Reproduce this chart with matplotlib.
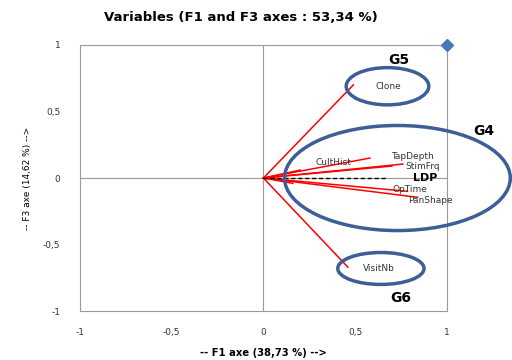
import numpy as np
import matplotlib
matplotlib.use("Agg")
import matplotlib.pyplot as plt
from matplotlib.patches import Ellipse

# variable coordinates (F1, F3)
names = ["Clone", "VisitNb", "CultHist", "TapDepth", "StimFrq", "OpTime", "PanShape", "Short1", "Short2"]
f1 = [0.49, 0.46, 0.58, 0.76, 0.70, 0.785, 0.84, 0.20, 0.16]
f3 = [0.70, -0.67, 0.15, 0.105, 0.09, -0.10, -0.145, 0.06, -0.04]
ldp = (0.67, 0.0)

# label positions
lab_names = ["Clone", "VisitNb", "CultHist", "TapDepth", "StimFrq", "OpTime", "PanShape"]
lab_x = [0.68, 0.63, 0.38, 0.81, 0.87, 0.80, 0.91]
lab_y = [0.69, -0.68, 0.12, 0.165, 0.09, -0.09, -0.17]

# groups (center x, center y, width, height)
groups = ["G5", "G4", "G6"]
g_cx = [0.676, 0.73, 0.64]
g_cy = [0.69, 0.0, -0.68]
g_w = [0.45, 1.23, 0.47]
g_h = [0.28, 0.79, 0.24]
g_lx = [0.74, 1.2, 0.75]
g_ly = [0.89, 0.35, -0.90]

fig = plt.figure(figsize=(5.12, 3.6), dpi=100)
ax = fig.add_axes([0.156, 0.136, 0.717, 0.739])
ax.set_xlim(-1, 1)
ax.set_ylim(-1, 1)

ax.axhline(0, color="#999999", lw=0.8, zorder=0)
ax.axvline(0, color="#999999", lw=0.8, zorder=0)
for s in ax.spines.values():
    s.set_color("#999999")
    s.set_linewidth(0.8)

for x, y in zip(f1, f3):
    ax.plot([0, x], [0, y], color="red", lw=1.1, zorder=2)
ax.plot([0, ldp[0]], [0, ldp[1]], color="black", lw=1.0, ls=(0, (3, 2)), zorder=3)

for n, x, y in zip(lab_names, lab_x, lab_y):
    ax.text(x, y, n, ha="center", va="center", fontsize=6.5, color="#333333", zorder=5)
ax.text(0.88, 0.0, "LDP", ha="center", va="center", fontsize=8, fontweight="bold", zorder=5)

for g, cx, cy, w, h, lx, ly in zip(groups, g_cx, g_cy, g_w, g_h, g_lx, g_ly):
    e = Ellipse((cx, cy), w, h, fill=False, edgecolor="#3b5f96", lw=2.5, clip_on=False, zorder=4)
    ax.add_patch(e)
    ax.text(lx, ly, g, ha="center", va="center", fontsize=10, fontweight="bold", clip_on=False)

ax.plot([1], [1], marker="D", color="#4a76b8", ms=6, clip_on=False, zorder=6)

ticks = [-1, -0.5, 0, 0.5, 1]
tick_labels = ["-1", "-0,5", "0", "0,5", "1"]
ax.set_xticks(ticks)
ax.set_xticklabels(tick_labels)
ax.set_yticks(ticks)
ax.set_yticklabels(tick_labels)
ax.tick_params(length=0, labelsize=6.5, pad=12, colors="#333333")
ax.tick_params(axis="y", pad=14)

ax.set_xlabel("-- F1 axe (38,73 %) -->", fontsize=7.2, fontweight="bold", labelpad=8)
ax.set_ylabel("-- F3 axe (14,62 %) -->", fontsize=6.5, labelpad=8)
fig.text(0.47, 0.952, "Variables (F1 and F3 axes : 53,34 %)", ha="center", va="center",
         fontsize=9.5, fontweight="bold")

fig.savefig("out.png", dpi=100)
